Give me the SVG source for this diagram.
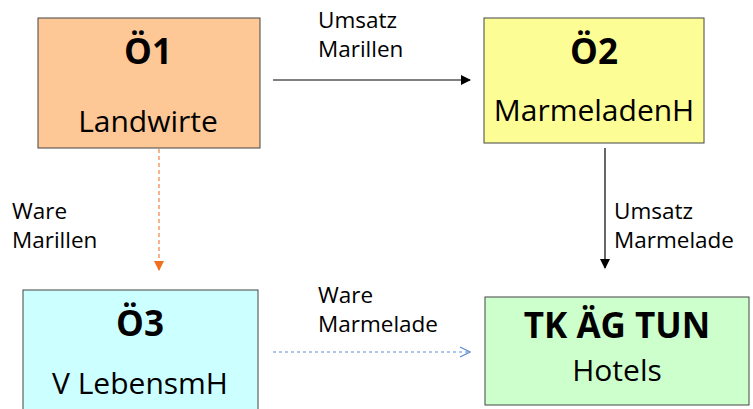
<svg xmlns="http://www.w3.org/2000/svg" width="753" height="409" viewBox="0 0 753 409">
<defs>
<style>
.box{stroke:#444;stroke-width:1}
.t{font-family:"Open Sans","Liberation Sans",sans-serif;fill:#000}
.h{font-weight:bold;font-size:35px;text-anchor:middle}
.s{font-size:30px;text-anchor:middle}
.l{font-size:22.5px}
</style>
<marker id="ab" markerWidth="10" markerHeight="12" refX="9" refY="6" orient="auto" markerUnits="userSpaceOnUse"><path d="M0,1 L10,6 L0,11 Z" fill="#000"/></marker>
<marker id="ao" markerWidth="10" markerHeight="10" refX="9" refY="5" orient="auto" markerUnits="userSpaceOnUse"><path d="M0,0 L10,5 L0,10 Z" fill="#f07020"/></marker>
<marker id="abl" markerWidth="12" markerHeight="12" refX="11" refY="6" orient="auto" markerUnits="userSpaceOnUse"><path d="M1,1 L11,6 L1,11" fill="none" stroke="#5b8bd0" stroke-width="1.2"/></marker>
</defs>
<rect width="753" height="409" fill="#fff"/>
<g id="connectors">
<line x1="273" y1="80" x2="470" y2="80" stroke="#000" stroke-width="1.2" marker-end="url(#ab)"/>
<line x1="605" y1="148" x2="605" y2="268" stroke="#000" stroke-width="1.2" marker-end="url(#ab)"/>
<line x1="159" y1="149" x2="159" y2="270" stroke="#f08040" stroke-width="1.2" stroke-dasharray="4,3" marker-end="url(#ao)"/>
<line x1="273" y1="352" x2="470" y2="352" stroke="#5b8bd0" stroke-width="1" stroke-dasharray="3,3" marker-end="url(#abl)"/>
<text class="t l" x="318" y="28">Umsatz</text>
<text class="t l" x="318" y="57">Marillen</text>
<text class="t l" x="12" y="219">Ware</text>
<text class="t l" x="12" y="248">Marillen</text>
<text class="t l" x="614" y="219">Umsatz</text>
<text class="t l" x="614" y="248">Marmelade</text>
<text class="t l" x="318" y="303">Ware</text>
<text class="t l" x="318" y="332">Marmelade</text>
</g>
<g id="n1">
<rect class="box" x="38" y="18" width="222" height="130" fill="#fdc796"/>
<text class="t h" x="148" y="64">Ö1</text>
<text class="t s" x="148" y="132">Landwirte</text>
</g>
<g id="n2">
<rect class="box" x="484" y="18" width="220" height="125" fill="#fdfd96"/>
<text class="t h" x="594" y="64">Ö2</text>
<text class="t s" x="594" y="121">MarmeladenH</text>
</g>
<g id="n3">
<rect class="box" x="23" y="290" width="235" height="125" fill="#ccffff"/>
<text class="t h" x="140" y="336">Ö3</text>
<text class="t s" x="140" y="394">V LebensmH</text>
</g>
<g id="n4">
<rect class="box" x="485" y="297" width="264" height="108" fill="#ccffcc"/>
<text class="t h" x="617" y="338">TK ÄG TUN</text>
<text class="t s" x="617" y="381">Hotels</text>
</g>
</svg>
